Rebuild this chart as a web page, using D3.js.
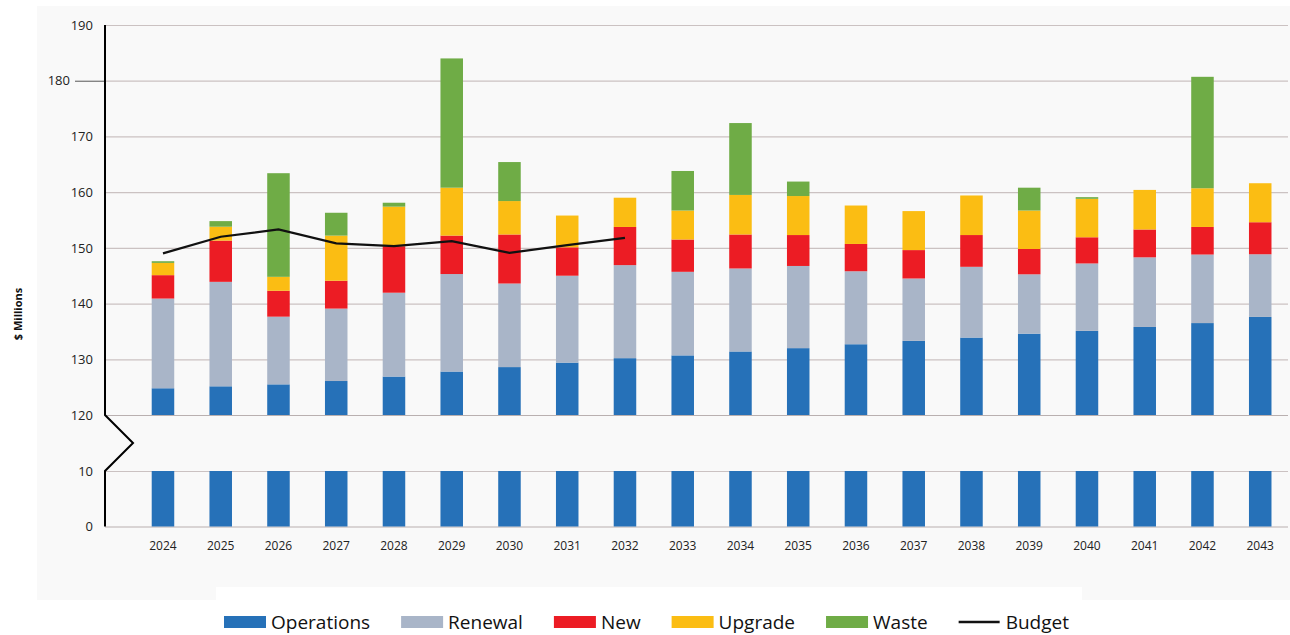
<!DOCTYPE html>
<html lang="en">
<head>
<meta charset="UTF-8">
<title>Capital and operating expenditure forecast</title>
<script src="https://cdn.jsdelivr.net/npm/d3@7/dist/d3.min.js"></script>
<style>
  * { box-sizing: border-box; }
  body { margin: 0; background: #fff; font-family: 'Open Sans', sans-serif; }
</style>
</head>
<body>
<svg id="chart" width="1290" height="635"></svg>
<script>
// values ($ millions)
var years      = ['2024','2025','2026','2027','2028','2029','2030','2031','2032','2033',
                  '2034','2035','2036','2037','2038','2039','2040','2041','2042','2043'];
var operations = [124.8,125.15,125.5,126.1,126.9,127.8,128.6,129.4,130.2,130.7,
                  131.4,132.0,132.7,133.3,133.9,134.6,135.1,135.8,136.5,137.6];
var renewal    = [16.1,18.75,12.15,13.0,15.05,17.5,15.0,15.6,16.7,15.0,
                  14.9,14.75,13.1,11.2,12.7,10.65,12.1,12.5,12.3,11.25];
var newWorks   = [4.2,7.4,4.65,5.0,8.35,6.9,8.8,5.1,6.85,5.8,
                  6.1,5.55,4.9,5.1,5.7,4.55,4.7,5.0,4.95,5.75];
var upgrade    = [2.2,2.5,2.5,8.1,7.1,8.6,6.0,5.7,5.25,5.2,
                  7.1,7.0,6.9,7.0,7.1,6.9,6.9,7.1,6.95,7.0];
var waste      = [0.3,1.0,18.6,4.1,0.7,23.2,7.0,0,0,7.1,
                  12.9,2.6,0,0,0,4.1,0.3,0,20.0,0];
var budgetYears = ['2024','2025','2026','2027','2028','2029','2030','2031','2032'];
var budget      = [149.0,152.0,153.3,150.8,150.3,151.2,149.1,150.5,151.8];

var yTicks = [0, 10, 120, 130, 140, 150, 160, 170, 180, 190];

var keys   = ['Operations','Renewal','New','Upgrade','Waste'];
var colors = ['#2671b8','#a9b5c8','#ec1c24','#fbbd13','#6fac46'];
var series = [operations, renewal, newWorks, upgrade, waste];

var rows = years.map(function(y, i) {
  var r = { year: y };
  keys.forEach(function(k, j) { r[k] = series[j][i]; });
  return r;
});

var svg = d3.select('#chart');
var axisX = 105, gridRight = 1288;

// background panel with white notch for the legend
svg.append('rect').attr('x', 37).attr('y', 6).attr('width', 1253).attr('height', 594).attr('fill', '#f9f9f9');
svg.append('rect').attr('x', 216).attr('y', 587).attr('width', 866).attr('height', 48).attr('fill', '#fff');

var x = d3.scaleBand().domain(years).range([134.1, 1289.1]).paddingInner(0.61).paddingOuter(0.305);
// broken axis: 10 -> 120 squeezed into one gap
var y = d3.scaleLinear().domain([0, 10, 120, 190]).range([526.5, 471, 415, 25]);

// grid + y labels
var yAxis = svg.append('g').attr('transform', 'translate(' + axisX + ',0)')
  .call(d3.axisLeft(y).tickValues(yTicks).tickSize(-(gridRight - axisX)).tickPadding(12).tickFormat(d3.format('d')));
yAxis.select('.domain').remove();
yAxis.selectAll('.tick line').attr('stroke', function(d) { return (d === 0 || d === 120) ? '#b9b0b0' : '#cbc2c2'; }).attr('stroke-width', 1.2);
yAxis.selectAll('.tick text').attr('font-size', 13).attr('fill', '#222').attr('font-family', "'Open Sans', sans-serif");
// the 180 label sits further left with a short tick in the original
yAxis.selectAll('.tick').filter(function(d) { return d === 180; }).each(function() {
  var t = d3.select(this);
  t.select('text').attr('x', -35);
  t.append('line').attr('x1', -30).attr('x2', 0).attr('stroke', '#555').attr('stroke-width', 1);
});

// stacked bars
var stacked = d3.stack().keys(keys)(rows);
stacked.forEach(function(layer, j) {
  var g = svg.append('g').attr('fill', colors[j]);
  layer.forEach(function(seg) {
    var x0 = x(seg.data.year), w = x.bandwidth();
    if (seg[1] - seg[0] <= 0) return;
    if (j === 0) {
      g.append('rect').attr('x', x0).attr('width', w).attr('y', y(10)).attr('height', y(0) - y(10));
      g.append('rect').attr('x', x0).attr('width', w).attr('y', y(seg[1])).attr('height', y(120) - y(seg[1]));
    } else {
      g.append('rect').attr('x', x0).attr('width', w).attr('y', y(seg[1])).attr('height', y(seg[0]) - y(seg[1]));
    }
  });
});

// budget line
var line = d3.line()
  .x(function(d, i) { return x(budgetYears[i]) + x.bandwidth() / 2; })
  .y(function(d) { return y(d); });
svg.append('path').datum(budget).attr('d', line).attr('fill', 'none').attr('stroke', '#111').attr('stroke-width', 2.2);

// y axis line with break zigzag
var mid = (y(120) + y(10)) / 2;
svg.append('path')
  .attr('d', d3.line()([[axisX, y(190)], [axisX, y(120)], [axisX + 28, mid], [axisX, y(10)], [axisX, y(0)]]))
  .attr('fill', 'none').attr('stroke', '#000').attr('stroke-width', 2);

// x labels
var xAxis = svg.append('g').attr('transform', 'translate(0,' + y(0) + ')')
  .call(d3.axisBottom(x).tickSize(0).tickPadding(15));
xAxis.select('.domain').remove();
xAxis.selectAll('text').attr('font-size', 12).attr('fill', '#222').attr('font-family', "'Open Sans', sans-serif");

// y title
svg.append('text').attr('transform', 'translate(22,314) rotate(-90)')
  .attr('text-anchor', 'middle').attr('font-size', 11).attr('font-weight', 'bold').attr('fill', '#111')
  .text('$ Millions');

// legend
var legendItems = keys.map(function(k, j) { return { name: k, color: colors[j], type: 'box' }; })
  .concat([{ name: 'Budget', color: '#111', type: 'line' }]);
var lx = 224, ly = 622;
legendItems.forEach(function(it) {
  var g = svg.append('g');
  if (it.type === 'box') {
    g.append('rect').attr('x', lx).attr('y', ly - 6).attr('width', 42).attr('height', 12).attr('fill', it.color);
  } else {
    g.append('line').attr('x1', lx).attr('x2', lx + 41).attr('y1', ly).attr('y2', ly).attr('stroke', it.color).attr('stroke-width', 2.5);
  }
  var t = g.append('text').attr('x', lx + 47).attr('y', ly + 7).attr('font-size', 19).attr('fill', '#111').text(it.name);
  lx += 47 + t.node().getComputedTextLength() + 31;
});
</script>
</body>
</html>
